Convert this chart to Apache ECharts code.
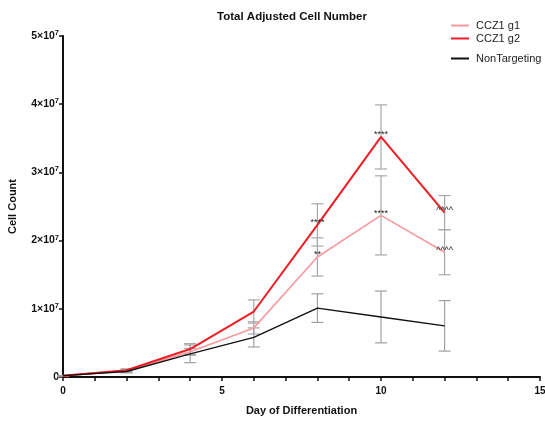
<!DOCTYPE html>
<html>
<head>
<meta charset="utf-8">
<script src="https://cdn.jsdelivr.net/npm/echarts@6/dist/echarts.min.js"></script>
<style>
  html, body { margin: 0; padding: 0; background: #fff; }
  #chart { width: 545px; height: 421px; }
</style>
</head>
<body>
<div id="chart"></div>
<script>
// Days of differentiation at which cells were counted
const days = [0, 2, 4, 6, 8, 10, 12];

// Mean adjusted cell counts per condition
const g1Mean = [0.02e7, 0.09e7, 0.37e7, 0.72e7, 1.76e7, 2.37e7, 1.83e7];
const g2Mean = [0.02e7, 0.10e7, 0.41e7, 0.96e7, 2.23e7, 3.52e7, 2.41e7];
const ntMean = [0.02e7, 0.08e7, 0.34e7, 0.58e7, 1.01e7, 0.88e7, 0.75e7];

// Spread (± error) per condition
const g1Err = [0, 0.02e7, 0.05e7, 0.09e7, 0.28e7, 0.58e7, 0.33e7];
const g2Err = [0, 0.02e7, 0.08e7, 0.17e7, 0.31e7, 0.47e7, 0.25e7];
const ntErr = [0, 0.02e7, 0.13e7, 0.14e7, 0.21e7, 0.38e7, 0.37e7];

// Significance marks vs NonTargeting
const g1Sig = ['', '', '', '', '**', '****', '^^^^'];
const g2Sig = ['', '', '', '', '****', '****', '^^^^'];

// Axis ticks
const yTicks = [0, 1e7, 2e7, 3e7, 4e7, 5e7];
const xLabelled = [0, 5, 10, 15];

const seriesNames = ['CCZ1 g1', 'CCZ1 g2', 'NonTargeting'];
const colors = ['#f79a9e', '#ee1c25', '#111111'];
const FONT = 'Liberation Sans, Arial, sans-serif';

function pairs(means) {
  return days.map((d, i) => [d, means[i]]);
}

function errorSeries(means, errs, color) {
  return {
    type: 'custom',
    silent: true,
    z: 1,
    data: days.map((d, i) => [d, means[i] - errs[i], means[i] + errs[i]]),
    renderItem: function (params, api) {
      const lo = api.coord([api.value(0), api.value(1)]);
      const hi = api.coord([api.value(0), api.value(2)]);
      const hw = 6;
      const style = { stroke: color, lineWidth: 1.2 };
      return {
        type: 'group',
        children: [
          { type: 'line', shape: { x1: lo[0], y1: lo[1], x2: hi[0], y2: hi[1] }, style: style },
          { type: 'line', shape: { x1: hi[0] - hw, y1: hi[1], x2: hi[0] + hw, y2: hi[1] }, style: style },
          { type: 'line', shape: { x1: lo[0] - hw, y1: lo[1], x2: lo[0] + hw, y2: lo[1] }, style: style }
        ]
      };
    }
  };
}

function lineSeries(name, means, color, width) {
  return {
    name: name,
    type: 'line',
    z: 3,
    data: pairs(means),
    showSymbol: false,
    symbol: 'none',
    lineStyle: { color: color, width: width },
    itemStyle: { color: color },
    emphasis: { disabled: true }
  };
}

// Significance text drawn at the mean points
function sigSeries(means, sig) {
  return {
    type: 'custom',
    silent: true,
    z: 5,
    data: days.map((d, i) => [d, means[i], i]),
    renderItem: function (params, api) {
      const p = api.coord([api.value(0), api.value(1)]);
      const txt = sig[api.value(2)];
      if (!txt) return null;
      return {
        type: 'text',
        x: p[0],
        y: p[1] - 2,
        style: {
          text: txt,
          fontSize: 9,
          fontFamily: FONT,
          fill: '#222',
          align: 'center',
          verticalAlign: 'middle'
        }
      };
    }
  };
}

const chart = echarts.init(document.getElementById('chart'), null, { renderer: 'canvas' });

const legendBase = {
  itemWidth: 18,
  itemHeight: 2,
  itemGap: 0,
  icon: 'rect',
  textStyle: { fontSize: 11, color: '#222', fontFamily: FONT, padding: [0, 0, 0, 2] }
};

chart.setOption({
  animation: false,
  backgroundColor: '#fff',
  title: {
    text: 'Total Adjusted Cell Number',
    left: 287,
    top: 6,
    textAlign: 'center',
    textStyle: { fontSize: 11.5, fontWeight: 'bold', color: '#111', fontFamily: FONT }
  },
  legend: [
    Object.assign({}, legendBase, { data: [seriesNames[0]], left: 446, top: 15 }),
    Object.assign({}, legendBase, { data: [seriesNames[1]], left: 446, top: 28 }),
    Object.assign({}, legendBase, { data: [seriesNames[2]], left: 446, top: 48 })
  ],
  grid: { left: 63, right: 5, top: 36, bottom: 44, containLabel: false, outerBoundsMode: 'none' },
  xAxis: {
    type: 'value',
    min: 0,
    max: 15,
    interval: 1,
    name: 'Day of Differentiation',
    nameLocation: 'middle',
    nameGap: 28,
    nameTextStyle: { fontSize: 11, fontWeight: 'bold', color: '#111', fontFamily: FONT },
    axisLine: { lineStyle: { color: '#111', width: 2 } },
    axisTick: { show: true, length: 4, lineStyle: { color: '#111', width: 1.5 } },
    axisLabel: {
      fontSize: 10, fontWeight: 'bold', color: '#111', margin: 9,
      fontFamily: FONT,
      formatter: v => (xLabelled.indexOf(v) >= 0 ? String(v) : '')
    },
    splitLine: { show: false }
  },
  yAxis: {
    type: 'value',
    min: yTicks[0],
    max: yTicks[yTicks.length - 1],
    interval: 1e7,
    name: 'Cell Count',
    nameLocation: 'middle',
    nameGap: 45,
    nameTextStyle: { fontSize: 11, fontWeight: 'bold', color: '#111', fontFamily: FONT },
    axisLine: { show: true, lineStyle: { color: '#111', width: 2 } },
    axisTick: { show: true, length: 4, lineStyle: { color: '#111', width: 1.5 } },
    axisLabel: {
      fontSize: 10.5, fontWeight: 'bold', color: '#111', margin: 4,
      fontFamily: FONT,
      formatter: v => (v === 0 ? '0' : (v / 1e7) + '×10{sup|7}'),
      rich: {
        sup: { fontSize: 7.5, fontWeight: 'bold', color: '#111', verticalAlign: 'top', padding: [0, 0, 6, 0], fontFamily: FONT }
      }
    },
    splitLine: { show: false }
  },
  series: [
    errorSeries(g1Mean, g1Err, '#a8a8a8'),
    errorSeries(g2Mean, g2Err, '#a8a8a8'),
    errorSeries(ntMean, ntErr, '#a0a0a0'),
    lineSeries(seriesNames[0], g1Mean, colors[0], 1.6),
    lineSeries(seriesNames[1], g2Mean, colors[1], 2),
    lineSeries(seriesNames[2], ntMean, colors[2], 1.4),
    sigSeries(g1Mean, g1Sig),
    sigSeries(g2Mean, g2Sig)
  ]
});
</script>
</body>
</html>
